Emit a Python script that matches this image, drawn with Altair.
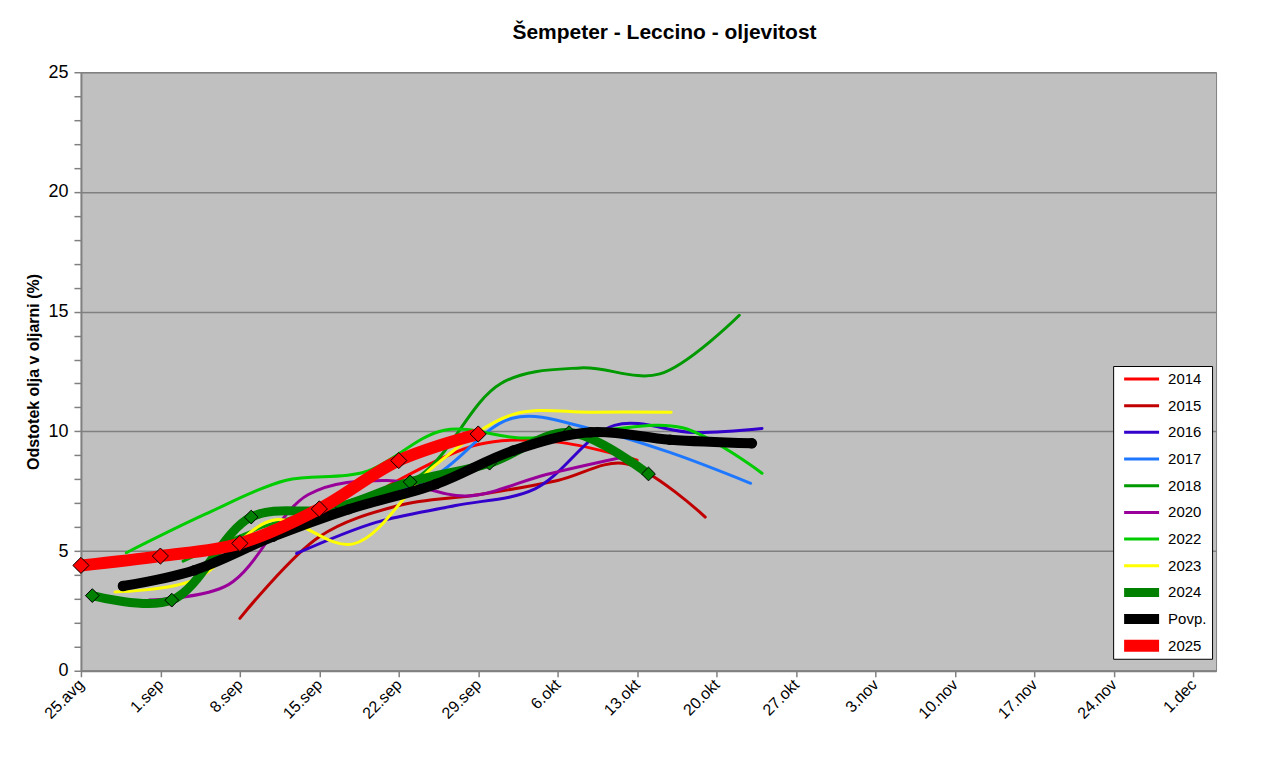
import altair as alt
import pandas as pd

# x positions are days after 25 Aug
tick_labels = ["25.avg", "1.sep", "8.sep", "15.sep", "22.sep", "29.sep", "6.okt",
               "13.okt", "20.okt", "27.okt", "3.nov", "10.nov", "17.nov", "24.nov", "1.dec"]
tick_days = [7 * i for i in range(len(tick_labels))]

days_2014 = [27, 35, 42, 49]
vals_2014 = [7.7, 9.45, 9.55, 8.8]

days_2015 = [14, 21, 28, 35, 42, 48, 55]
vals_2015 = [2.19, 5.6, 6.9, 7.35, 7.95, 8.65, 6.42]

days_2016 = [19, 26, 33, 40, 47, 54, 60]
vals_2016 = [4.9, 6.2, 6.9, 7.6, 10.25, 9.95, 10.12]

days_2017 = [24, 31, 38, 45, 52, 59]
vals_2017 = [7.0, 8.1, 10.55, 10.1, 9.1, 7.83]

days_2018 = [9, 16, 23, 30, 37, 44, 51, 58]
vals_2018 = [4.58, 6.0, 7.0, 8.2, 12.0, 12.65, 12.4, 14.85]

days_2020 = [6, 13, 20, 27, 34, 41, 47.5]
vals_2020 = [2.96, 3.6, 7.35, 7.95, 7.3, 8.2, 8.9]

days_2022 = [4, 11, 18, 25, 32, 39, 46, 53, 60]
vals_2022 = [4.93, 6.55, 7.95, 8.3, 10.05, 9.72, 10.05, 10.15, 8.25]

days_2023 = [3, 10, 17, 24, 31, 38, 45, 52]
vals_2023 = [3.29, 3.8, 6.3, 5.3, 8.5, 10.7, 10.8, 10.8]

days_2024 = [1, 8, 15, 22, 29, 36, 43, 50]
vals_2024 = [3.14, 2.95, 6.42, 6.75, 7.89, 8.67, 9.95, 8.22]

days_povp = [3.7, 10, 16.9, 23.6, 31.3, 38.1, 44.9, 51.9, 59.1]
vals_povp = [3.54, 4.2, 5.6, 6.75, 7.8, 9.2, 9.96, 9.65, 9.5]

days_2025 = [0, 7, 14, 21, 28, 35]
vals_2025 = [4.40, 4.79, 5.32, 6.76, 8.78, 9.89]

series_names = ["2014", "2015", "2016", "2017", "2018", "2020", "2022", "2023",
                "2024", "Povp.", "2025"]
series_data = [
    (days_2014, vals_2014), (days_2015, vals_2015), (days_2016, vals_2016),
    (days_2017, vals_2017), (days_2018, vals_2018), (days_2020, vals_2020),
    (days_2022, vals_2022), (days_2023, vals_2023), (days_2024, vals_2024),
    (days_povp, vals_povp), (days_2025, vals_2025),
]

# styles
series_colors = ["#FF0000", "#C00000", "#3300CC", "#1E78FF", "#009900", "#990099",
                 "#00CC00", "#FFFF00", "#008000", "#000000", "#FF0000"]
series_widths = [3, 3, 3, 3, 3, 3, 3, 3, 9, 10, 12]

rows = []
for name, (ds, vs) in zip(series_names, series_data):
    for d, v in zip(ds, vs):
        rows.append({"series": name, "day": d, "value": v})
df = pd.DataFrame(rows)

FONT = "Liberation Sans"

label_array = "[" + ",".join("'" + t + "'" for t in tick_labels) + "]"

legend = alt.Legend(
    title=None, orient="none", legendX=1033, legendY=294,
    fillColor="white", strokeColor="black", padding=5,
    symbolType="stroke", symbolSize=1225, clipHeight=16, rowPadding=10.7,
    labelFont=FONT, labelFontSize=15, labelColor="black", labelOffset=3,
)

x_enc = alt.X(
    "day:Q",
    scale=alt.Scale(domain=[0, 100], nice=False, zero=False),
    axis=alt.Axis(
        values=tick_days, labelExpr=label_array + "[round(datum.value/7)]",
        labelAngle=-45, labelAlign="right", labelBaseline="middle",
        labelFont=FONT, labelFontSize=16, labelColor="black", labelPadding=5,
        labelOverlap=False, domainColor="#808080", domainWidth=2,
        tickColor="#808080", tickSize=6, tickWidth=1.5, grid=False, title=None,
    ),
)
y_enc = alt.Y(
    "value:Q",
    scale=alt.Scale(domain=[0, 25], nice=False),
    axis=alt.Axis(
        values=list(range(0, 26)),
        labelExpr="datum.value % 5 == 0 ? datum.value : ''",
        labelFont=FONT, labelFontSize=18, labelColor="black", labelPadding=6,
        labelOverlap=False,
        domainColor="#808080", domainWidth=2,
        tickColor="#808080", tickSize=7, tickWidth=1.5,
        grid=True, gridColor="#808080", gridWidth=1.5,
        gridOpacity={"condition": {"test": "datum.value % 5 == 0", "value": 1}, "value": 0},
        title="Odstotek olja v oljarni (%)", titleFont=FONT, titleFontSize=16,
        titleFontWeight="bold", titleColor="black", titlePadding=6,
    ),
)
color_enc = alt.Color("series:N", scale=alt.Scale(domain=series_names, range=series_colors),
                      legend=legend)
width_enc = alt.StrokeWidth("series:N",
                            scale=alt.Scale(type="ordinal", domain=series_names, range=series_widths),
                            legend=legend)

base = alt.Chart(df)

def line_layer(names):
    return base.transform_filter(
        alt.FieldOneOfPredicate(field="series", oneOf=names)
    ).mark_line(interpolate="catmull-rom", strokeCap="round", strokeJoin="round").encode(
        x=x_enc, y=y_enc, color=color_enc, strokeWidth=width_enc, detail="series:N"
    )

thin = line_layer(series_names[:8])
l2024 = line_layer(["2024"])
lpovp = line_layer(["Povp."])
l2025 = line_layer(["2025"])

p2024 = base.transform_filter(alt.datum.series == "2024").mark_point(
    shape="diamond", filled=True, fill="#008000", stroke="black", strokeWidth=1,
    size=190, opacity=1
).encode(x=x_enc, y=y_enc)
ppovp = base.transform_filter(alt.datum.series == "Povp.").mark_circle(
    color="black", size=110, opacity=1
).encode(x=x_enc, y=y_enc)
p2025 = base.transform_filter(alt.datum.series == "2025").mark_point(
    shape="diamond", filled=True, fill="#FF0000", stroke="black", strokeWidth=1,
    size=260, opacity=1
).encode(x=x_enc, y=y_enc)

chart = alt.layer(thin, l2024, p2024, lpovp, ppovp, l2025, p2025).properties(
    width=1136, height=599,
    background="white",
    title=alt.TitleParams("Šempeter - Leccino - oljevitost", font=FONT, fontSize=21,
                          fontWeight="bold", color="black", anchor="middle", offset=20, dx=16),
    autosize=alt.AutoSizeParams(type="none"),
    padding={"left": 73, "top": 64, "right": 60, "bottom": 60},
).configure_view(fill="#C0C0C0", stroke="#808080", strokeWidth=1)

chart.save("out.html", embed_options={"renderer": "svg", "actions": False})
